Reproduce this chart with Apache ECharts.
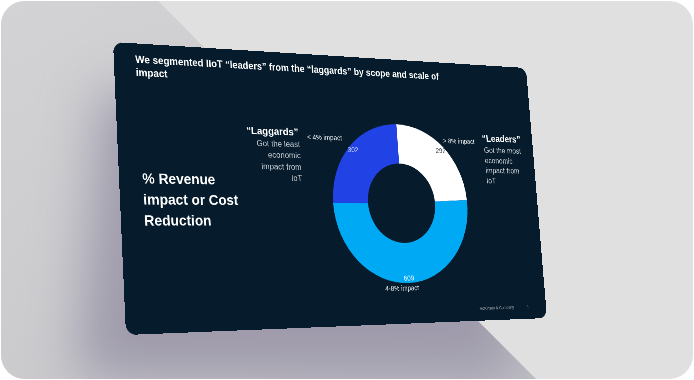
<!DOCTYPE html>
<html>
<head>
<meta charset="utf-8">
<script src="https://cdn.jsdelivr.net/npm/echarts@6/dist/echarts.min.js"></script>
<style>
  html, body { margin: 0; padding: 0; width: 694px; height: 380px; overflow: hidden; background: #ffffff; }
  #frame { position: absolute; left: 1px; top: 1px; width: 692px; height: 378px; border-radius: 24px; background: #e0e0e1; overflow: hidden; }
  #darkside { position: absolute; left: 0; top: 0; width: 692px; height: 378px;
    clip-path: polygon(0 0, 157px 0, 537px 380px, 0 380px);
    background: linear-gradient(150deg, #d3d3d5 0%, #cacacd 55%, #bdbcc3 100%); }
  #shadowblur { position: absolute; left: 0; top: 0; width: 692px; height: 378px; filter: blur(26px); }
  #shadowshape { position: absolute; left: 0; top: 0; width: 692px; height: 378px; background: #9e9aab;
    clip-path: polygon(100px 90px, 500px 110px, 520px 440px, 70px 450px); }
  #slide { position: absolute; left: 0; top: 0; width: 960px; height: 540px; transform-origin: 0 0;
    background: #061c2c; border-radius: 20px; overflow: hidden; }
</style>
</head>
<body>
<div id="frame">
  <div id="darkside"><div id="shadowblur"><div id="shadowshape"></div></div></div>
</div>
<div id="slide"></div>
<script>
// ---- data ----
const categories = ['> 8% impact', '4-8% impact', '< 4% impact'];
const counts = [292, 609, 302];
const titleText = 'We segmented IIoT \u201cleaders\u201d from the \u201claggards\u201d by scope and scale of\nimpact';
const metricText = '% Revenue\nimpact or Cost\nReduction';
const laggardsHead = '\u201cLaggards\u201d';
const laggardsBody = 'Got the least\neconomic\nimpact from\nIoT';
const leadersHead = '\u201cLeaders\u201d';
const leadersBody = 'Got the most\neconomic\nimpact from\nIoT';
const footerText = 'McKinsey & Company';
const pageNumber = '1';

// ---- layout / style ----
const W = 960, H = 540;
const slideCorners = [[113, 42], [526, 68], [547, 318], [126, 335]]; // tl, tr, br, bl on the page
const sliceColors = ['#ffffff', '#00a9f4', '#2142e4'];
const nameLabelAnchors = [[727, 166, 'left'], [600, 469, 'center'], [482, 167, 'right']];
const FONT = '"Liberation Sans", Arial, sans-serif';

function quadMatrix(w, h, q) {
  const [x0, y0] = q[0], [x1, y1] = q[1], [x2, y2] = q[2], [x3, y3] = q[3];
  const dx1 = x1 - x2, dx2 = x3 - x2, dx3 = x0 - x1 + x2 - x3;
  const dy1 = y1 - y2, dy2 = y3 - y2, dy3 = y0 - y1 + y2 - y3;
  const den = dx1 * dy2 - dx2 * dy1;
  const g = (dx3 * dy2 - dx2 * dy3) / den;
  const hh = (dx1 * dy3 - dx3 * dy1) / den;
  const a = x1 - x0 + g * x1, b = x3 - x0 + hh * x3, c = x0;
  const d = y1 - y0 + g * y1, e = y3 - y0 + hh * y3, f = y0;
  return 'matrix3d(' + [a / w, d / w, 0, g / w, b / h, e / h, 0, hh / h, 0, 0, 1, 0, c, f, 0, 1].join(',') + ')';
}
const slideEl = document.getElementById('slide');
slideEl.style.transform = quadMatrix(W, H, slideCorners);

const chart = echarts.init(slideEl, null, { renderer: 'svg', width: W, height: H });

const pieData = categories.map((name, i) => ({ name: name, value: counts[i], itemStyle: { color: sliceColors[i] } }));
const center = [614, 297];

function txt(x, y, text, opt) {
  return {
    type: 'text', x: x, y: y, silent: true,
    style: Object.assign({
      text: text, fill: '#ffffff', fontFamily: FONT, fontSize: 17, fontWeight: 'normal',
      align: 'left', textAlign: 'left', verticalAlign: 'top', textVerticalAlign: 'top'
    }, opt)
  };
}

chart.setOption({
  backgroundColor: 'transparent',
  animation: false,
  graphic: [
    txt(43, 17, titleText, { fontSize: 20, fontWeight: 'bold', lineHeight: 25 }),
    txt(46, 235, metricText, { fontSize: 28, fontWeight: 'bold', lineHeight: 39 }),
    txt(383, 157, laggardsHead, { fontSize: 21, fontWeight: 'bold', align: 'right', textAlign: 'right', verticalAlign: 'middle', textVerticalAlign: 'middle' }),
    txt(385, 171, laggardsBody, { fontSize: 17, lineHeight: 22.5, fill: '#c9ced4', align: 'right', textAlign: 'right' }),
    txt(827, 157, leadersHead, { fontSize: 21, fontWeight: 'bold', verticalAlign: 'middle', textVerticalAlign: 'middle' }),
    txt(830, 173, leadersBody, { fontSize: 17, lineHeight: 21.5, fill: '#c9ced4' }),
    txt(831, 515, footerText, { fontSize: 9, fill: '#a9b0b8', align: 'center', textAlign: 'center', verticalAlign: 'middle', textVerticalAlign: 'middle' }),
    txt(912, 515, pageNumber, { fontSize: 9, fill: '#a9b0b8', align: 'center', textAlign: 'center', verticalAlign: 'middle', textVerticalAlign: 'middle' })
  ],
  series: [
    {
      type: 'pie', center: center, radius: [81, 162], startAngle: 90, clockwise: true,
      avoidLabelOverlap: false, silent: true, emphasis: { disabled: true },
      data: pieData,
      label: { show: true, position: 'outside', formatter: '{b}', color: '#e4e8ec', fontSize: 14.5, fontFamily: FONT },
      labelLine: { show: false },
      labelLayout: function (p) {
        const a = nameLabelAnchors[p.dataIndex];
        return { x: a[0], y: a[1], align: a[2], verticalAlign: 'middle' };
      }
    },
    {
      type: 'pie', center: center, radius: [136, 162], startAngle: 90, clockwise: true,
      avoidLabelOverlap: false, silent: true, emphasis: { disabled: true },
      itemStyle: { color: 'rgba(0,0,0,0)' },
      data: categories.map((name, i) => ({ name: name, value: counts[i] })),
      label: {
        show: true, position: 'inside', fontFamily: FONT, fontSize: 15,
        formatter: function (p) { return (p.dataIndex === 0 ? '{d|' : p.dataIndex === 2 ? '{p|' : '{l|') + p.value + '}'; },
        rich: {
          d: { color: '#3c4148', fontSize: 15, fontFamily: FONT },
          l: { color: '#f2f8ff', fontSize: 15, fontFamily: FONT },
          p: { color: '#d3dbff', fontSize: 15, fontFamily: FONT }
        }
      },
      labelLine: { show: false }
    }
  ]
});
</script>
</body>
</html>
